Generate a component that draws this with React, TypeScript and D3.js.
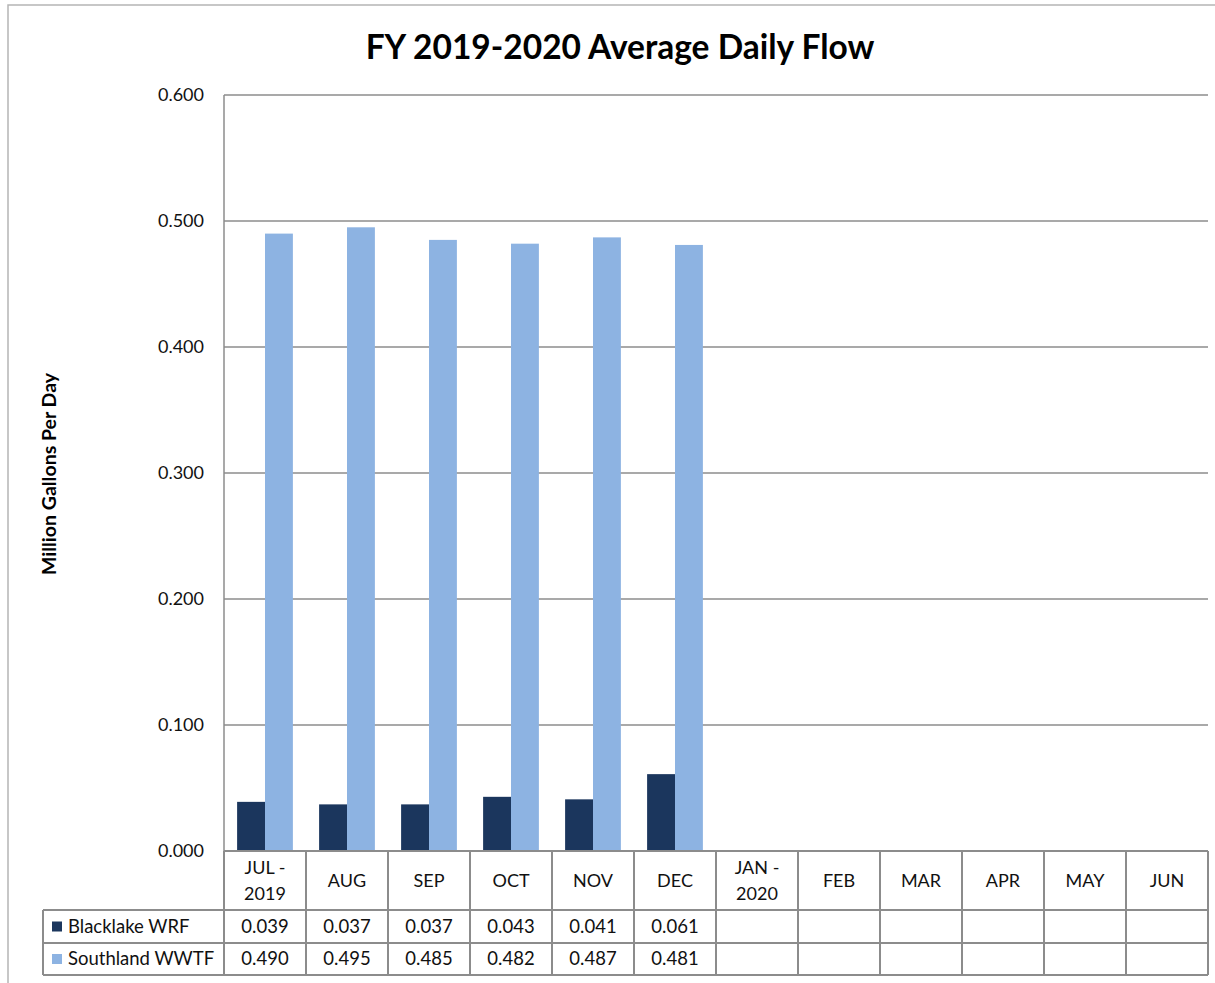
import React from 'react';
import * as d3 from 'd3';

const MONTHS = ['JUL - 2019', 'AUG', 'SEP', 'OCT', 'NOV', 'DEC', 'JAN - 2020', 'FEB', 'MAR', 'APR', 'MAY', 'JUN'];
const BLACKLAKE = [0.039, 0.037, 0.037, 0.043, 0.041, 0.061];
const SOUTHLAND = [0.490, 0.495, 0.485, 0.482, 0.487, 0.481];
const SERIES_NAMES = ['Blacklake WRF', 'Southland WWTF'];
const SERIES_COLORS = ['#1b365d', '#8db3e2'];
const Y_TICKS = [0, 0.1, 0.2, 0.3, 0.4, 0.5, 0.6];

const W = 1215;
const H = 983;
const PLOT = { left: 224, right: 1208, top: 95, bottom: 851 };
const ROW_H = [59, 33, 32];
const LEGEND_LEFT = 43;
const FONT = 'Lato, "Open Sans", sans-serif';
const GRID = '#8c8c8c';
const TXT = '#111';

const App = () => {
  const x = d3.scaleBand<string>().domain(MONTHS).range([PLOT.left, PLOT.right]);
  const inner = d3.scaleBand<number>().domain([0, 1]).range([0, x.bandwidth()]).paddingOuter(0.47).paddingInner(0);
  const y = d3.scaleLinear().domain([0, 0.6]).range([PLOT.bottom, PLOT.top]);
  const fmt = d3.format('.3f');
  const series = [BLACKLAKE, SOUTHLAND];

  const r0 = PLOT.bottom;
  const r1 = r0 + ROW_H[0];
  const r2 = r1 + ROW_H[1];
  const r3 = r2 + ROW_H[2];

  return (
    <div style={{ position: 'absolute', left: 0, top: 0 }}>
      <svg width={W} height={H} style={{ display: 'block', background: '#fff' }}>
        {/* outer chart frame */}
        <path d={`M8,${H} V5 H${W}`} fill="none" stroke="#b5b5b5" strokeWidth={1.5} />

        <text x={620} y={59} textAnchor="middle" fontFamily={FONT} fontWeight={700} fontSize={33.5} fill="#000">
          FY 2019-2020 Average Daily Flow
        </text>

        {/* gridlines + y ticks */}
        {Y_TICKS.map(t => (
          <g key={t}>
            <line x1={PLOT.left} x2={PLOT.right} y1={y(t)} y2={y(t)} stroke={GRID} strokeWidth={1.3} />
            <text x={204} y={y(t)} dy="0.35em" textAnchor="end" fontFamily={FONT} fontSize={18} fill={TXT}>
              {fmt(t)}
            </text>
          </g>
        ))}
        <line x1={PLOT.left} x2={PLOT.left} y1={PLOT.top} y2={PLOT.bottom} stroke={GRID} strokeWidth={1.5} />

        <text transform="translate(56,474) rotate(-90)" textAnchor="middle" fontFamily={FONT} fontWeight={700} fontSize={19.5} fill="#000">
          Million Gallons Per Day
        </text>

        {/* bars */}
        {series.map((vals, si) =>
          vals.map((v, i) => (
            <rect
              key={`${si}-${i}`}
              x={(x(MONTHS[i]) as number) + (inner(si) as number)}
              y={y(v)}
              width={inner.bandwidth()}
              height={y(0) - y(v)}
              fill={SERIES_COLORS[si]}
            />
          ))
        )}

        {/* data table */}
        <g stroke={GRID} strokeWidth={2} fill="none">
          <line x1={PLOT.left} x2={PLOT.right} y1={r0} y2={r0} />
          <line x1={LEGEND_LEFT} x2={PLOT.right} y1={r1} y2={r1} />
          <line x1={LEGEND_LEFT} x2={PLOT.right} y1={r2} y2={r2} />
          <line x1={LEGEND_LEFT} x2={PLOT.right} y1={r3} y2={r3} />
          <line x1={LEGEND_LEFT} x2={LEGEND_LEFT} y1={r1} y2={r3} />
          {MONTHS.map(m => (
            <line key={m} x1={x(m)} x2={x(m)} y1={r0} y2={r3} />
          ))}
          <line x1={PLOT.right} x2={PLOT.right} y1={r0} y2={r3} />
        </g>

        {MONTHS.map(m => {
          const cx = (x(m) as number) + x.bandwidth() / 2;
          const parts = m.split(' - ');
          return parts.length === 2 ? (
            <text key={m} x={cx} textAnchor="middle" fontFamily={FONT} fontSize={18} fill={TXT}>
              <tspan x={cx} y={r0 + 23}>{parts[0] + ' -'}</tspan>
              <tspan x={cx} y={r0 + 49}>{parts[1]}</tspan>
            </text>
          ) : (
            <text key={m} x={cx} y={(r0 + r1) / 2} dy="0.35em" textAnchor="middle" fontFamily={FONT} fontSize={18} fill={TXT}>
              {m}
            </text>
          );
        })}

        {series.map((vals, si) => {
          const top = si === 0 ? r1 : r2;
          const bottom = si === 0 ? r2 : r3;
          const cy = (top + bottom) / 2;
          return (
            <g key={si}>
              <rect x={52} y={cy - 5} width={10} height={10} fill={SERIES_COLORS[si]} />
              <text x={68} y={cy} dy="0.35em" fontFamily={FONT} fontSize={18.5} fill={TXT}>
                {SERIES_NAMES[si]}
              </text>
              {vals.map((v, i) => (
                <text
                  key={i}
                  x={(x(MONTHS[i]) as number) + x.bandwidth() / 2}
                  y={cy}
                  dy="0.35em"
                  textAnchor="middle"
                  fontFamily={FONT}
                  fontSize={18.5}
                  fill={TXT}
                >
                  {fmt(v)}
                </text>
              ))}
            </g>
          );
        })}
      </svg>
    </div>
  );
};

export default App;
